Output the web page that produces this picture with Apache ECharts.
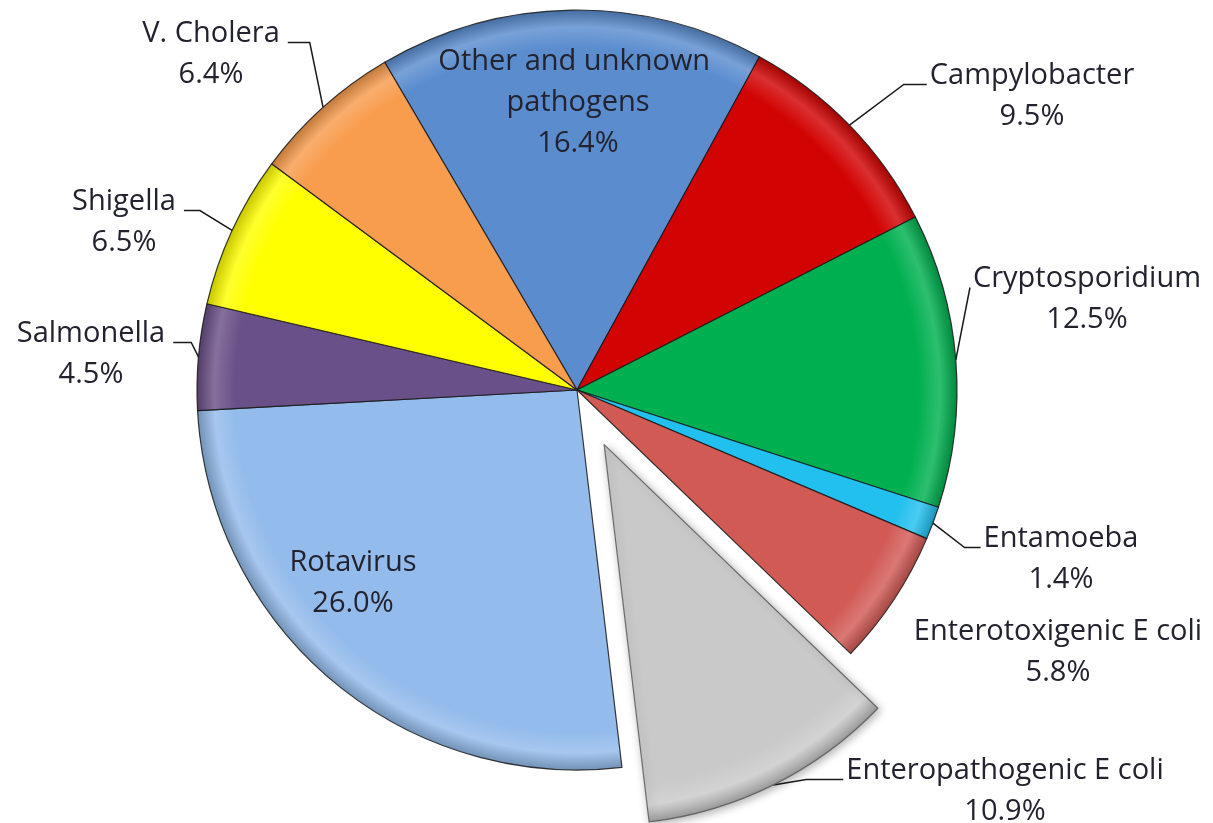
<!DOCTYPE html>
<html>
<head>
<meta charset="utf-8">
<script src="https://cdn.jsdelivr.net/npm/echarts@6/dist/echarts.min.js"></script>
<style>
  html, body { margin: 0; padding: 0; background: #ffffff; }
  #chart { width: 1213px; height: 823px; }
</style>
</head>
<body>
<div id="chart"></div>
<script>
// Share of diarrhoeal deaths by pathogen (%), clockwise from the top
const categories = [
  'Other and unknown pathogens', 'Campylobacter', 'Cryptosporidium', 'Entamoeba',
  'Enterotoxigenic E coli', 'Enteropathogenic E coli', 'Rotavirus', 'Salmonella',
  'Shigella', 'V. Cholera'
];
const shares = [16.4, 9.5, 12.5, 1.4, 5.8, 10.9, 26.0, 4.5, 6.5, 6.4];
const explodedCategory = 'Enteropathogenic E coli';

// slice palette, same order as categories
const sliceColors = [
  '#5a8cce', '#d20303', '#00b050', '#22c0ee', '#d25a55',
  '#c9c9c9', '#93bbeb', '#6a5088', '#ffff00', '#f89c4d'
];

// pie geometry (pixels / degrees)
const CX = 577, CY = 390, RADIUS = 380, START_ANGLE = 120.4, EXPLODE = 61;
const FONT_SIZE = 29, LINE_H = 41;

// centre of each label block; labels with a side get a leader line leaving that side
const labelPlacement = {
  'Other and unknown pathogens': { x: 578, y: 103 },
  'Campylobacter':               { x: 1032, y: 96,  side: 'left',  run: 23 },
  'Cryptosporidium':             { x: 1087, y: 299, side: 'left',  run: 0 },
  'Entamoeba':                   { x: 1061, y: 559, side: 'left',  run: 16 },
  'Enterotoxigenic E coli':      { x: 1058, y: 652 },
  'Enteropathogenic E coli':     { x: 1005, y: 791, side: 'left',  run: 37 },
  'Rotavirus':                   { x: 353,  y: 583 },
  'Salmonella':                  { x: 91,   y: 354, side: 'right', run: 18 },
  'Shigella':                    { x: 124,  y: 222, side: 'right', run: 16 },
  'V. Cholera':                  { x: 211,  y: 54,  side: 'right', run: 22 }
};

const total = shares.reduce((a, b) => a + b, 0);
const explodedIndex = categories.indexOf(explodedCategory);

// mid angle of slice i, degrees clockwise from 12 o'clock
function midAngle(i) {
  let before = 0;
  for (let k = 0; k < i; k++) before += shares[k];
  return (90 - START_ANGLE) + (before + shares[i] / 2) / total * 360;
}
// the pulled-out slice is drawn around a centre shifted along its mid angle
const explodedCenter = (function () {
  const t = midAngle(explodedIndex) * Math.PI / 180;
  return [CX + EXPLODE * Math.sin(t), CY - EXPLODE * Math.cos(t)];
})();
function sliceCenter(i) {
  return i === explodedIndex ? explodedCenter : [CX, CY];
}
function rimPoint(i) {
  const c = sliceCenter(i);
  const t = midAngle(i) * Math.PI / 180;
  return [c[0] + RADIUS * Math.sin(t), c[1] - RADIUS * Math.cos(t)];
}

function mix(hex, target, amount) {
  const h = hex.replace('#', '');
  const rgb = [0, 2, 4].map(k => parseInt(h.substr(k, 2), 16));
  const out = rgb.map(v => Math.round(v + (target - v) * amount));
  return 'rgb(' + out.join(',') + ')';
}
// flat fill with a light bevel band and a darker rim at the outer edge
function bevelFill(color, c) {
  return {
    type: 'radial', x: c[0], y: c[1], r: RADIUS, global: true,
    colorStops: [
      { offset: 0, color: color },
      { offset: 0.9, color: color },
      { offset: 0.955, color: mix(color, 255, 0.18) },
      { offset: 1, color: mix(color, 0, 0.22) }
    ]
  };
}

const hiddenItem = {
  itemStyle: { color: 'rgba(0,0,0,0)', borderWidth: 0, shadowBlur: 0 },
  label: { show: false },
  labelLine: { show: false }
};

function buildData(drawExploded) {
  return categories.map((name, i) => {
    const item = { name: name, value: shares[i] };
    if ((i === explodedIndex) !== drawExploded) {
      return Object.assign(item, JSON.parse(JSON.stringify(hiddenItem)));
    }
    const place = labelPlacement[name];
    item.itemStyle = { color: bevelFill(sliceColors[i], sliceCenter(i)) };
    if (!place.side) item.labelLine = { show: false };
    if (name === 'Other and unknown pathogens') {
      item.label = { position: 'inside', width: 300, overflow: 'break' };
    } else if (name === 'Rotavirus') {
      item.label = { position: 'inside' };
    }
    if (i === explodedIndex) {
      item.itemStyle.borderColor = 'rgba(95,95,95,0.9)';
      item.itemStyle.shadowBlur = 8;
      item.itemStyle.shadowColor = 'rgba(0,0,0,0.3)';
      item.itemStyle.shadowOffsetX = 2;
      item.itemStyle.shadowOffsetY = 2;
    }
    return item;
  });
}

function pieSeries(drawExploded) {
  return {
    type: 'pie',
    center: drawExploded ? explodedCenter : [CX, CY],
    radius: RADIUS,
    startAngle: START_ANGLE,
    clockwise: true,
    avoidLabelOverlap: false,
    silent: true,
    emphasis: { disabled: true },
    itemStyle: { borderColor: 'rgba(25,25,25,0.85)', borderWidth: 1.2 },
    label: {
      show: true,
      position: 'outside',
      overflow: 'none',
      color: '#23232f',
      fontFamily: 'Open Sans',
      fontSize: FONT_SIZE,
      lineHeight: LINE_H,
      align: 'center',
      formatter: p => p.name + '\n' + p.value.toFixed(1) + '%'
    },
    labelLine: { show: true, smooth: false, lineStyle: { color: '#1a1a1a', width: 1.5 } },
    labelLayout: function (params) {
      const i = params.dataIndex;
      const place = labelPlacement[categories[i]];
      const w = params.labelRect.width, h = params.labelRect.height;
      const out = { x: place.x, y: place.y, align: 'center', verticalAlign: 'middle' };
      if (place.side) {
        const lineY = place.y - h / 2 + LINE_H / 2 + 9;
        const dir = place.side === 'left' ? -1 : 1;
        const edgeX = place.side === 'left' ? place.x - w / 2 - 3 : place.x + w / 2 + 8;
        out.labelLinePoints = [rimPoint(i), [edgeX + dir * place.run, lineY], [edgeX, lineY]];
      }
      return out;
    },
    data: buildData(drawExploded)
  };
}

const chart = echarts.init(document.getElementById('chart'), null, { renderer: 'canvas' });
chart.setOption({
  animation: false,
  backgroundColor: '#ffffff',
  series: [pieSeries(false), pieSeries(true)]
});
</script>
</body>
</html>
